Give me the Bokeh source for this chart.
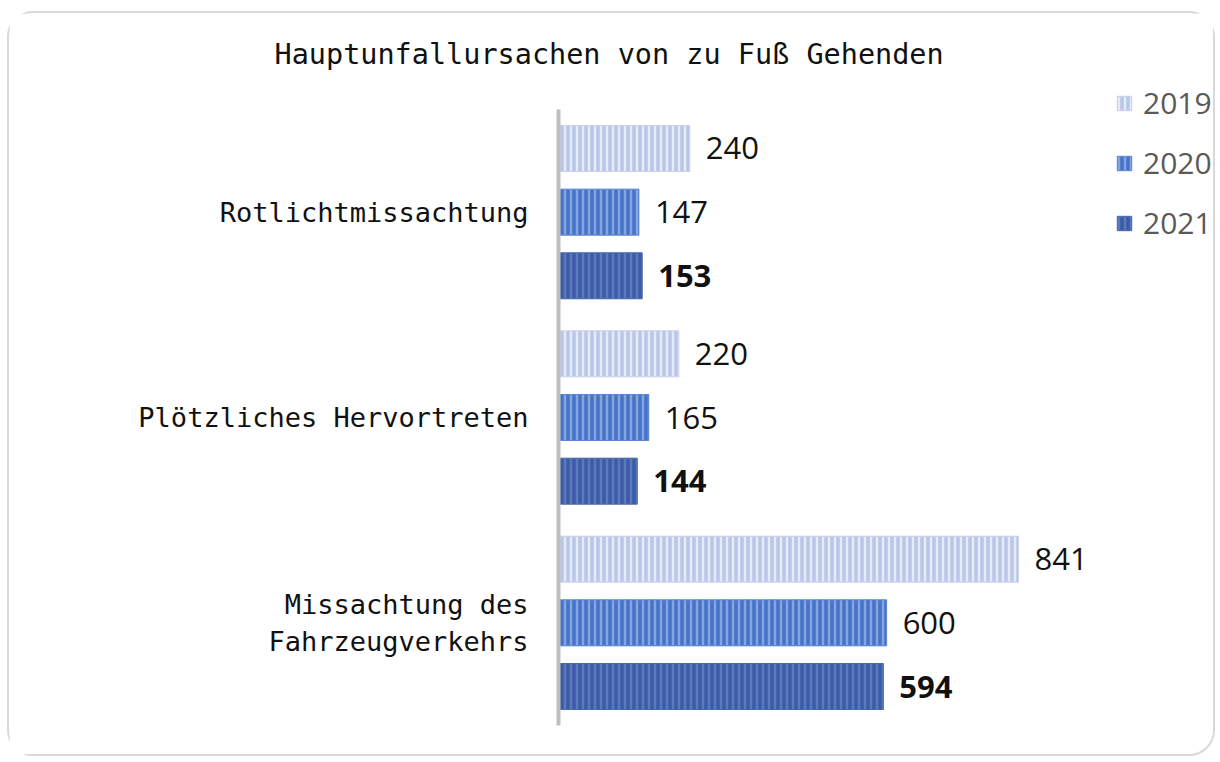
from bokeh.plotting import figure
from bokeh.models import ColumnDataSource, FactorRange, Range1d, Legend, LegendItem, Title
from bokeh.transform import dodge
from bokeh.core.properties import value
from bokeh.embed import file_html
from bokeh.resources import INLINE

# ---- data ----
categories = ["Rotlichtmissachtung", "Plötzliches Hervortreten", "Missachtung des\nFahrzeugverkehrs"]
years = ["2019", "2020", "2021"]
values_2019 = [240, 220, 841]
values_2020 = [147, 165, 600]
values_2021 = [153, 144, 594]
title_text = "Hauptunfallursachen von zu Fuß Gehenden"

series = [
    (years[0], values_2019, 0.31, "#b9c6e9", "#e5eaf7", "#c9d3ee", "normal"),
    (years[1], values_2020, 0.0, "#4473c9", "#86a4df", "#5c86d2", "normal"),
    (years[2], values_2021, -0.31, "#3a5ca8", "#5d79b9", "#4a69ad", "bold"),
]

p = figure(
    width=1208, height=745,
    y_range=FactorRange(factors=list(reversed(categories)),
                        range_padding=0.146, range_padding_units="absolute"),
    x_range=Range1d(0, 1205),
    output_backend="svg", toolbar_location=None,
    min_border_left=549, min_border_top=66, min_border_right=0, min_border_bottom=3,
)
p.styles = {"border": "2px solid #d9d9d9", "border-radius": "26px",
            "margin-left": "7px", "margin-top": "11px"}
p.outline_line_color = None
p.background_fill_color = None
p.xgrid.visible = False
p.ygrid.visible = False
p.xaxis.visible = False

ax = p.yaxis[0]
ax.bounds = (0, len(categories))
ax.axis_line_color = "#bfbfbf"
ax.axis_line_width = 4
ax.major_tick_line_color = None
ax.minor_tick_line_color = None
ax.major_label_standoff = 24
ax.major_label_text_font = "DejaVu Sans Mono"
ax.major_label_text_font_size = "27px"
ax.major_label_text_color = "#111111"

t = Title(text=title_text, align="left", offset=-284, standoff=17,
          text_font="DejaVu Sans Mono", text_font_size="28.5px",
          text_font_style="normal", text_color="#111111")
p.add_layout(t, "above")

legend_items = []
for year, vals, off, fc, hc, lc, weight in series:
    src = ColumnDataSource(dict(cat=categories, value=vals, label=[str(v) for v in vals]))
    r = p.hbar(y=dodge("cat", off, range=p.y_range), left=0, right="value", height=0.224,
               source=src, fill_color=fc, line_color=lc, line_width=1,
               hatch_pattern="vertical_line", hatch_color=hc, hatch_weight=2.5, hatch_scale=6)
    p.text(x="value", y=dodge("cat", off, range=p.y_range), text="label", source=src,
           x_offset=16, text_baseline="middle", text_align="left",
           text_font=value("Open Sans"), text_font_size="31px",
           text_font_style=weight, text_color="#111111")
    legend_items.append(LegendItem(label=year, renderers=[r]))

legend = Legend(items=legend_items, location=(557, 512), orientation="vertical",
                padding=0, margin=0, spacing=19, glyph_width=18, glyph_height=18,
                label_standoff=10, label_height=20,
                label_text_font="Open Sans", label_text_font_size="30px",
                label_text_color="#595959",
                background_fill_alpha=0, border_line_color=None)
p.add_layout(legend, "center")

open("out.html", "w").write(file_html(p, INLINE))
